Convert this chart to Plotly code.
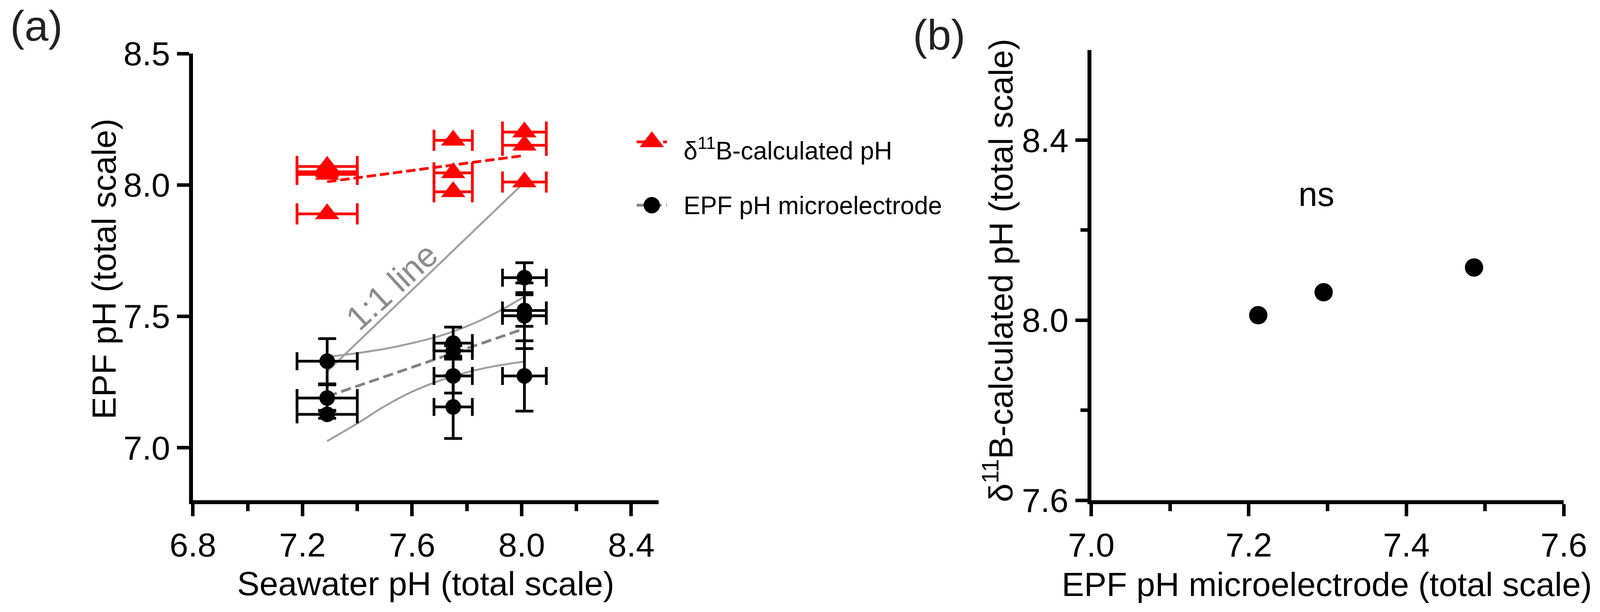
import plotly.graph_objects as go

FONT = "Liberation Sans, Arial, Helvetica, sans-serif"
W, H = 4205, 1566

# ---- panel (a): seawater pH vs EPF pH ----
red_x = [7.29, 7.29, 7.29, 7.29, 7.75, 7.75, 7.75, 8.01, 8.01, 8.01]
red_y = [8.07, 8.05, 8.04, 7.89, 8.17, 8.046, 7.974, 8.201, 8.151, 8.011]
red_xerr = [0.11, 0.11, 0.11, 0.11, 0.07, 0.07, 0.07, 0.08, 0.08, 0.08]

blk_x = [7.29, 7.29, 7.29, 7.75, 7.75, 7.75, 7.75, 8.01, 8.01, 8.01, 8.01]
blk_y = [7.329, 7.189, 7.127, 7.398, 7.368, 7.273, 7.155, 7.647, 7.522, 7.502, 7.273]
blk_xerr = [0.11, 0.11, 0.11, 0.07, 0.07, 0.07, 0.07, 0.08, 0.08, 0.08, 0.08]
blk_yerr = [0.086, 0.05, 0.015, 0.061, 0.02, 0.065, 0.12, 0.057, 0.06, 0.125, 0.134]

# regression lines
red_fit_x = [7.29, 8.01]
red_fit_y = [8.012, 8.112]
blk_fit_x = [7.29, 8.01]
blk_fit_y = [7.195, 7.453]

# 95% confidence band of the black regression
band_x = [7.29, 7.40, 7.50, 7.60, 7.70, 7.80, 7.90, 8.01]
band_hi = [7.345, 7.360, 7.376, 7.398, 7.425, 7.462, 7.510, 7.575]
band_lo = [7.025, 7.092, 7.158, 7.213, 7.255, 7.287, 7.310, 7.328]

# 1:1 line
one_x = [7.29, 8.01]
one_y = [7.29, 8.01]

a_xticks = [6.8, 7.2, 7.6, 8.0, 8.4]
a_xminor = [7.0, 7.4, 7.8, 8.2]
a_yticks = [7.0, 7.5, 8.0, 8.5]

# ---- panel (b): mean EPF pH vs mean d11B pH ----
b_x = [7.212, 7.295, 7.486]
b_y = [8.011, 8.062, 8.117]

b_xticks = [7.0, 7.2, 7.4, 7.6]
b_xminor = [7.1, 7.3, 7.5]
b_yticks = [7.6, 8.0, 8.4]
b_ytop = [8.6]
b_yminor = [7.8, 8.2]

# legend keys
legend_line_x = [0.0, 1.0]
legend_mark_x = [0.5]
legend_rows = [0, 1]

RED = "#ff0000"
GRAY = "#a0a0a0"
DGRAY = "#828282"

fig = go.Figure()

# bands
for yy in (band_hi, band_lo):
    fig.add_trace(go.Scatter(x=band_x, y=yy, mode="lines", line=dict(color=GRAY, width=5, shape="spline"),
                             xaxis="x", yaxis="y", hoverinfo="skip"))
fig.add_trace(go.Scatter(x=one_x, y=one_y, mode="lines", line=dict(color=GRAY, width=5),
                         xaxis="x", yaxis="y"))
fig.add_trace(go.Scatter(x=blk_fit_x, y=blk_fit_y, mode="lines",
                         line=dict(color=DGRAY, width=7, dash="26px,12px"), xaxis="x", yaxis="y"))
fig.add_trace(go.Scatter(x=red_fit_x, y=red_fit_y, mode="lines",
                         line=dict(color=RED, width=7, dash="24px,10px"), xaxis="x", yaxis="y"))

fig.add_trace(go.Scatter(
    x=blk_x, y=blk_y, mode="markers", xaxis="x", yaxis="y",
    marker=dict(symbol="circle", size=40, color="black"),
    error_x=dict(type="data", array=blk_xerr, color="black", thickness=7, width=23),
    error_y=dict(type="data", array=blk_yerr, color="black", thickness=7, width=23),
))
fig.add_trace(go.Scatter(
    x=red_x, y=red_y, mode="markers", xaxis="x", yaxis="y",
    marker=dict(symbol="triangle-up", size=54, color=RED),
    error_x=dict(type="data", array=red_xerr, color=RED, thickness=7, width=27),
))

# panel b points
fig.add_trace(go.Scatter(x=b_x, y=b_y, mode="markers", xaxis="x2", yaxis="y2",
                         marker=dict(symbol="circle", size=47, color="black")))

# legend keys on a hidden axis pair
fig.add_trace(go.Scatter(x=legend_line_x, y=[legend_rows[0]] * 2, mode="lines", xaxis="x3", yaxis="y3",
                         line=dict(color=RED, width=7, dash="24px,10px")))
fig.add_trace(go.Scatter(x=legend_mark_x, y=[legend_rows[0]], mode="markers", xaxis="x3", yaxis="y3",
                         marker=dict(symbol="triangle-up", size=54, color=RED)))
fig.add_trace(go.Scatter(x=legend_line_x, y=[legend_rows[1]] * 2, mode="lines", xaxis="x3", yaxis="y3",
                         line=dict(color=DGRAY, width=7, dash="26px,12px")))
fig.add_trace(go.Scatter(x=legend_mark_x, y=[legend_rows[1]], mode="markers", xaxis="x3", yaxis="y3",
                         marker=dict(symbol="circle", size=42, color="black")))

axis_common = dict(showgrid=False, zeroline=False, showline=True, linecolor="black", linewidth=10,
                   ticks="outside", ticklen=31, tickwidth=9, tickcolor="black", automargin=False,
                   tickfont=dict(family=FONT, size=86, color="black"))


def minor(vals):
    return dict(tickmode="array", tickvals=vals, ticks="outside", ticklen=18, tickwidth=9, tickcolor="black")


a_xdom = [507 / W, 1731 / W]
a_ydom = [1 - 1280 / H, 1 - 137 / H]
b_xdom = [2868 / W, 4110 / W]
b_ydom = [1 - 1280 / H, 1 - 128 / H]

# no fixed width/height: the figure fills the browser window
fig.update_layout(
    autosize=True,
    margin=dict(l=0, r=0, t=0, b=0),
    paper_bgcolor="white", plot_bgcolor="white",
    showlegend=False,
    font=dict(family=FONT, color="black"),
    xaxis=dict(domain=a_xdom, range=[6.8, 8.5], anchor="y",
               tickmode="array", tickvals=a_xticks, ticktext=[f"{v:.1f}" for v in a_xticks],
               minor=minor(a_xminor), **axis_common),
    yaxis=dict(domain=a_ydom, range=[6.8, 8.5], anchor="x",
               tickmode="array", tickvals=a_yticks, ticktext=[f"{v:.1f}" for v in a_yticks],
               **axis_common),
    xaxis2=dict(domain=b_xdom, range=[7.0, 7.6], anchor="y2",
                tickmode="array", tickvals=b_xticks, ticktext=[f"{v:.1f}" for v in b_xticks],
                minor=minor(b_xminor), **axis_common),
    yaxis2=dict(domain=b_ydom, range=[7.6, 8.6], anchor="x2",
                tickmode="array", tickvals=b_yticks, ticktext=[f"{v:.1f}" for v in b_yticks],
                minor=minor(b_yminor), **axis_common),
    # unlabeled top tick of panel (b)
    yaxis4=dict(domain=b_ydom, range=[7.6, 8.6], anchor="x2", overlaying="y2", showgrid=False,
                zeroline=False, showline=False, showticklabels=False, automargin=False,
                tickmode="array", tickvals=b_ytop, ticks="outside", ticklen=31, tickwidth=9,
                tickcolor="black"),
    xaxis3=dict(domain=[1673 / W, 1753 / W], range=[0, 1], anchor="y3", visible=False),
    yaxis3=dict(domain=[1 - 560 / H, 1 - 330 / H], range=[1.216, -0.204], anchor="x3", visible=False),
)


def paper_text(text, x, y, size, color="black", angle=0, xanchor="center"):
    # x, y given in pixels from the top-left corner of the figure
    return dict(text=text, x=x / W, y=1 - y / H, xref="paper", yref="paper", showarrow=False,
                textangle=angle, xanchor=xanchor, yanchor="middle",
                font=dict(family=FONT, size=size, color=color))


annotations = [
    paper_text("(a)", 95.5, 65, 110, "#222222"),
    paper_text("(b)", 2467.5, 89, 110, "#222222"),
    # axis titles
    paper_text("Seawater pH (total scale)", 1119, 1493, 86),
    paper_text("EPF pH (total scale)", 273, 688, 86, angle=-90),
    paper_text("EPF pH microelectrode (total scale)", 3487, 1495, 86),
    paper_text("δ<sup>11</sup>B-calculated pH (total scale)", 2624, 692, 86, angle=-90),
    # legend labels
    paper_text("δ<sup>11</sup>B-calculated pH", 1795, 381, 64, xanchor="left"),
    paper_text("EPF pH microelectrode", 1795, 526, 64, xanchor="left"),
    dict(text="1:1 line", x=7.525, y=7.615, xref="x", yref="y", showarrow=False, textangle=-42.6,
         xanchor="center", yanchor="middle", font=dict(family=FONT, size=87, color="#8c8c8c")),
    dict(text="ns", x=7.286, y=8.28, xref="x2", yref="y2", showarrow=False,
         xanchor="center", yanchor="middle", font=dict(family=FONT, size=87, color="black")),
]
fig.update_layout(annotations=annotations)

fig.write_html("out.html", config={"displayModeBar": False, "responsive": True},
               default_width="100vw", default_height="100vh",
               post_script="document.body.style.margin='0';document.body.style.overflow='hidden';"
                           "Plotly.Plots.resize(document.getElementById('{plot_id}'));")
